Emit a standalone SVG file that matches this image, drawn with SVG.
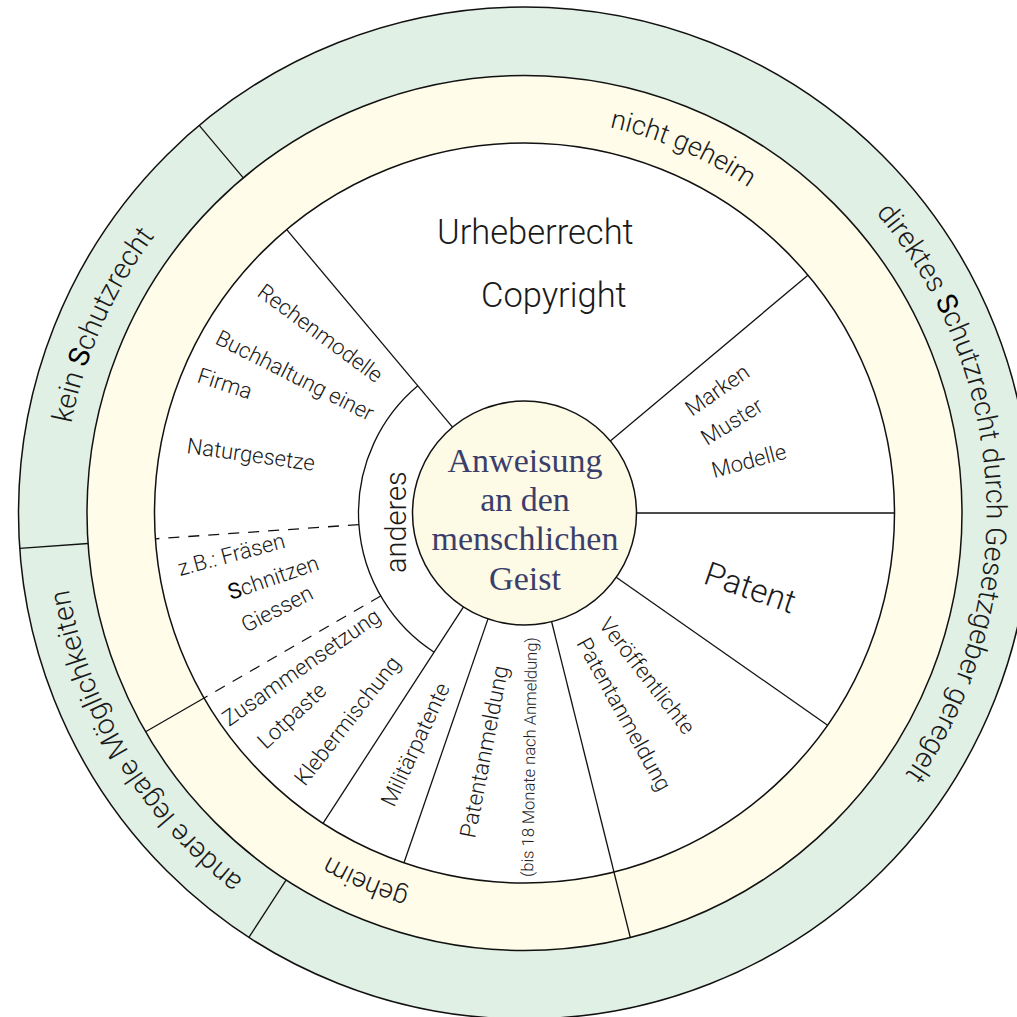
<svg xmlns="http://www.w3.org/2000/svg" width="1017" height="1017" viewBox="0 0 1017 1017">
<style>
.ring{stroke:#111;stroke-width:1.5}
.ln{stroke:#111;stroke-width:1.3;fill:none}
.dash{stroke:#111;stroke-width:1.3;stroke-dasharray:11 9;fill:none}
.t{font-family:Roboto,'Liberation Sans',sans-serif;font-weight:300;fill:#1a1a1a}
.s{font-weight:400;fill:#000}
.lab{font-size:22px}
.big{font-size:34.5px}
.ytxt{font-size:27px}
.gtxt{font-size:28.5px}
.ctr{font-family:'Liberation Serif','DejaVu Serif',serif;font-size:34px;fill:#3b3e6b;text-anchor:middle}
</style>
<defs>
<path id="py" d="M517.61,907.94 A395,395 0 0 1 524.5,118 A395,395 0 0 1 531.39,907.94"/>
<path id="pg" d="M516.44,974.93 A462,462 0 0 1 524.5,51 A462,462 0 0 1 532.56,974.93"/>
</defs>
<g id="rings">
<circle cx="524.5" cy="513" r="506" fill="#e1f0e5" class="ring"/>
<circle cx="524.5" cy="513" r="437.5" fill="#fffce9" class="ring"/>
<circle cx="524.5" cy="513" r="370" fill="#ffffff" class="ring"/>
</g>
<g id="connectors">
<line class="ln" x1="199.2" y1="125.4" x2="243.3" y2="177.9"/>
<line class="ln" x1="19.7" y1="548.3" x2="88.0" y2="543.5"/>
<line class="ln" x1="248.9" y1="937.4" x2="286.2" y2="879.9"/>
<line class="ln" x1="145.6" y1="731.8" x2="204.1" y2="698.0"/>
<line class="ln" x1="452.5" y1="427.2" x2="286.7" y2="229.6"/>
<line class="ln" x1="610.3" y1="441.0" x2="807.9" y2="275.2"/>
<line class="ln" x1="636.5" y1="513" x2="894.5" y2="513"/>
<line class="ln" x1="616.2" y1="577.2" x2="827.6" y2="725.2"/>
<line class="ln" x1="551.6" y1="621.7" x2="630.3" y2="937.5"/>
<line class="ln" x1="488.0" y1="618.9" x2="404.0" y2="862.8"/>
<line class="ln" x1="463.5" y1="606.9" x2="323.0" y2="823.3"/>
<path class="ln" d="M434.1,652.2 A166,166 0 0 1 417.8,385.8"/>
<line class="dash" x1="358.9" y1="524.6" x2="155.4" y2="538.8"/>
<line class="dash" x1="380.7" y1="596.0" x2="204.1" y2="698.0"/>
</g>
<g id="center">
<circle cx="524.5" cy="513" r="112" fill="#fdfae6" class="ring"/>
<text class="ctr"><tspan x="525" y="472">Anweisung</tspan><tspan x="525" y="511">an den</tspan><tspan x="525" y="550">menschlichen</tspan><tspan x="525" y="590">Geist</tspan></text>
</g>
<g id="ring-labels" class="t">
<g transform="rotate(23.5 524.5 513)"><text class="ytxt" text-anchor="middle"><textPath href="#py" startOffset="50%">nicht geheim</textPath></text></g>
<g transform="rotate(-156.7 524.5 513)"><text class="ytxt" text-anchor="middle"><textPath href="#py" startOffset="50%">geheim</textPath></text></g>
<g transform="rotate(-121 524.5 513)"><text class="gtxt" text-anchor="middle"><textPath href="#pg" startOffset="50%">andere legale Möglichkeiten</textPath></text></g>
<g transform="rotate(-66 524.5 513)"><text class="gtxt" text-anchor="middle"><textPath href="#pg" startOffset="50%">kein <tspan class="s">S</tspan>chutzrecht</textPath></text></g>
<g transform="rotate(87 524.5 513)"><text class="gtxt" text-anchor="middle" font-size="29.5"><textPath href="#pg" startOffset="50%">direktes <tspan class="s">S</tspan>chutzrecht durch Gesetzgeber geregelt</textPath></text></g>
</g>
<g id="urheberrecht" class="t">
<text class="big" x="437" y="244">Urheberrecht</text>
<text class="big" x="481" y="307">Copyright</text>
</g>
<g id="marken" class="t lab">
<text transform="translate(692 417) rotate(-35)">Marken</text>
<text transform="translate(707 446) rotate(-32)">Muster</text>
<text transform="translate(714 478) rotate(-15)">Modelle</text>
</g>
<g id="patent" class="t">
<text font-size="33" transform="translate(702 583) rotate(19)">Patent</text>
</g>
<g id="veroeffentlicht" class="t lab">
<text transform="translate(598 625) rotate(52)">Veröffentlichte</text>
<text transform="translate(576 643) rotate(61)">Patentanmeldung</text>
</g>
<g id="patentanmeldung" class="t">
<text font-size="22.5" transform="translate(475 839) rotate(-79)">Patentanmeldung</text>
<text transform="translate(533 877) rotate(-89)" font-size="16.5">(bis 18 Monate nach Anmeldung)</text>
</g>
<g id="militaer" class="t lab">
<text transform="translate(394 808) rotate(-65)">Militärpatente</text>
</g>
<g id="zusammensetzung" class="t lab">
<text transform="translate(229 727) rotate(-35)">Zusammensetzung</text>
<text transform="translate(266 750) rotate(-43)">Lotpaste</text>
<text transform="translate(305 787) rotate(-52)">Klebermischung</text>
</g>
<g id="fraesen" class="t lab">
<text transform="translate(180 576) rotate(-15)">z.B.: Fräsen</text>
<text transform="translate(231 600) rotate(-19)"><tspan class="s">S</tspan>chnitzen</text>
<text transform="translate(246 633) rotate(-27)">Giessen</text>
</g>
<g id="natur" class="t lab">
<text transform="translate(256 295) rotate(36.5)">Rechenmodelle</text>
<text transform="translate(214 343) rotate(26.8)">Buchhaltung einer</text>
<text transform="translate(196 382) rotate(18)">Firma</text>
<text transform="translate(186 453) rotate(8)">Naturgesetze</text>
</g>
<g id="anderes" class="t">
<text transform="translate(406 573) rotate(-90)" font-size="29">anderes</text>
</g>
</svg>
